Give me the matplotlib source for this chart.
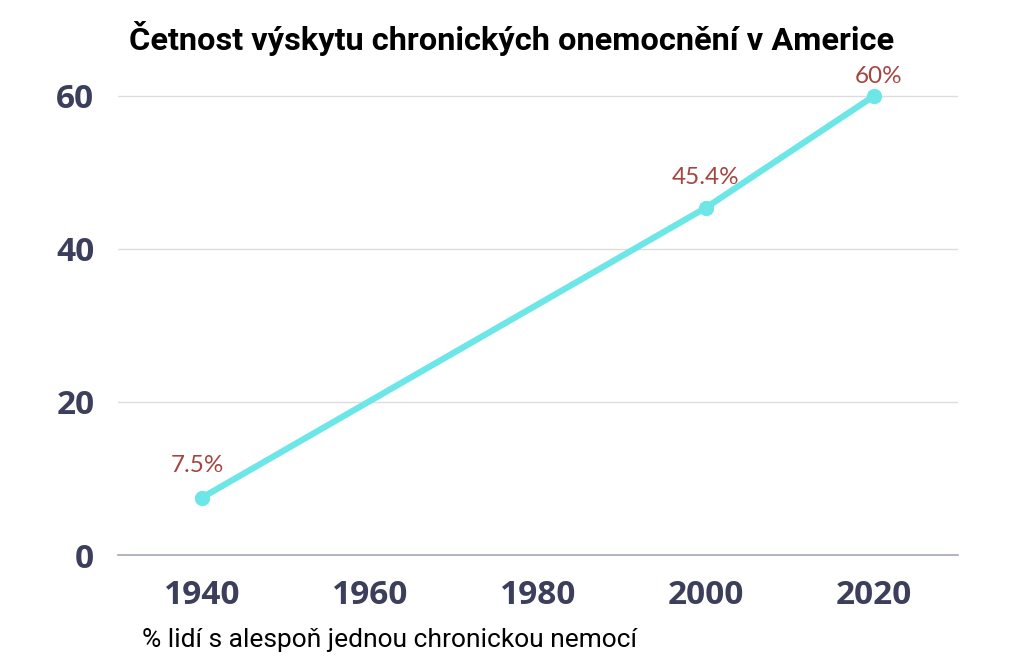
import matplotlib.pyplot as plt

years = [1940, 2000, 2020]
share = [7.5, 45.4, 60]
labels = ["7.5%", "45.4%", "60%"]
xticks = [1940, 1960, 1980, 2000, 2020]
yticks = [0, 20, 40, 60]

# label offsets in points (dx, dy)
label_offsets = [(-3, 23), (0, 22), (3, 14)]

fig = plt.figure(figsize=(10.24, 6.69), dpi=100)
ax = fig.add_axes([0.1152, 0.1704, 0.8203, 0.709])

ax.plot(years, share, color="#6de6e8", linewidth=4.5, marker="o", markersize=10,
        solid_capstyle="round", zorder=3, clip_on=False)
for x, y, t, off in zip(years, share, labels, label_offsets):
    ax.annotate(t, (x, y), xytext=off, textcoords="offset points", ha="center", va="center",
                color="#a5453f", fontsize=17.5, family="Lato", annotation_clip=False)

ax.set_xlim(1930, 2030)
ax.set_ylim(0, 62)
ax.set_xticks(xticks)
ax.set_yticks(yticks)
ax.grid(axis="y", color="#dddde0", linewidth=1)
ax.set_axisbelow(True)
for s in ["top", "right", "left"]:
    ax.spines[s].set_visible(False)
ax.spines["bottom"].set_color("#a4a8b8")
ax.spines["bottom"].set_linewidth(1.2)
ax.tick_params(length=0, labelsize=24, labelcolor="#3b3f5c", pad=17)
ax.tick_params(axis="y", pad=17)
for lab in ax.get_xticklabels() + ax.get_yticklabels():
    lab.set_fontweight("bold")
    lab.set_family("Open Sans")

fig.text(0.5, 0.943, "Četnost výskytu chronických onemocnění v Americe", ha="center", va="center",
         fontsize=23.4, fontweight="bold", family="Roboto")
fig.text(0.139, 0.043, "% lidí s alespoň jednou chronickou nemocí", ha="left", va="center",
         fontsize=19, family="Roboto")

fig.savefig("out.png", dpi=100, facecolor="white")
